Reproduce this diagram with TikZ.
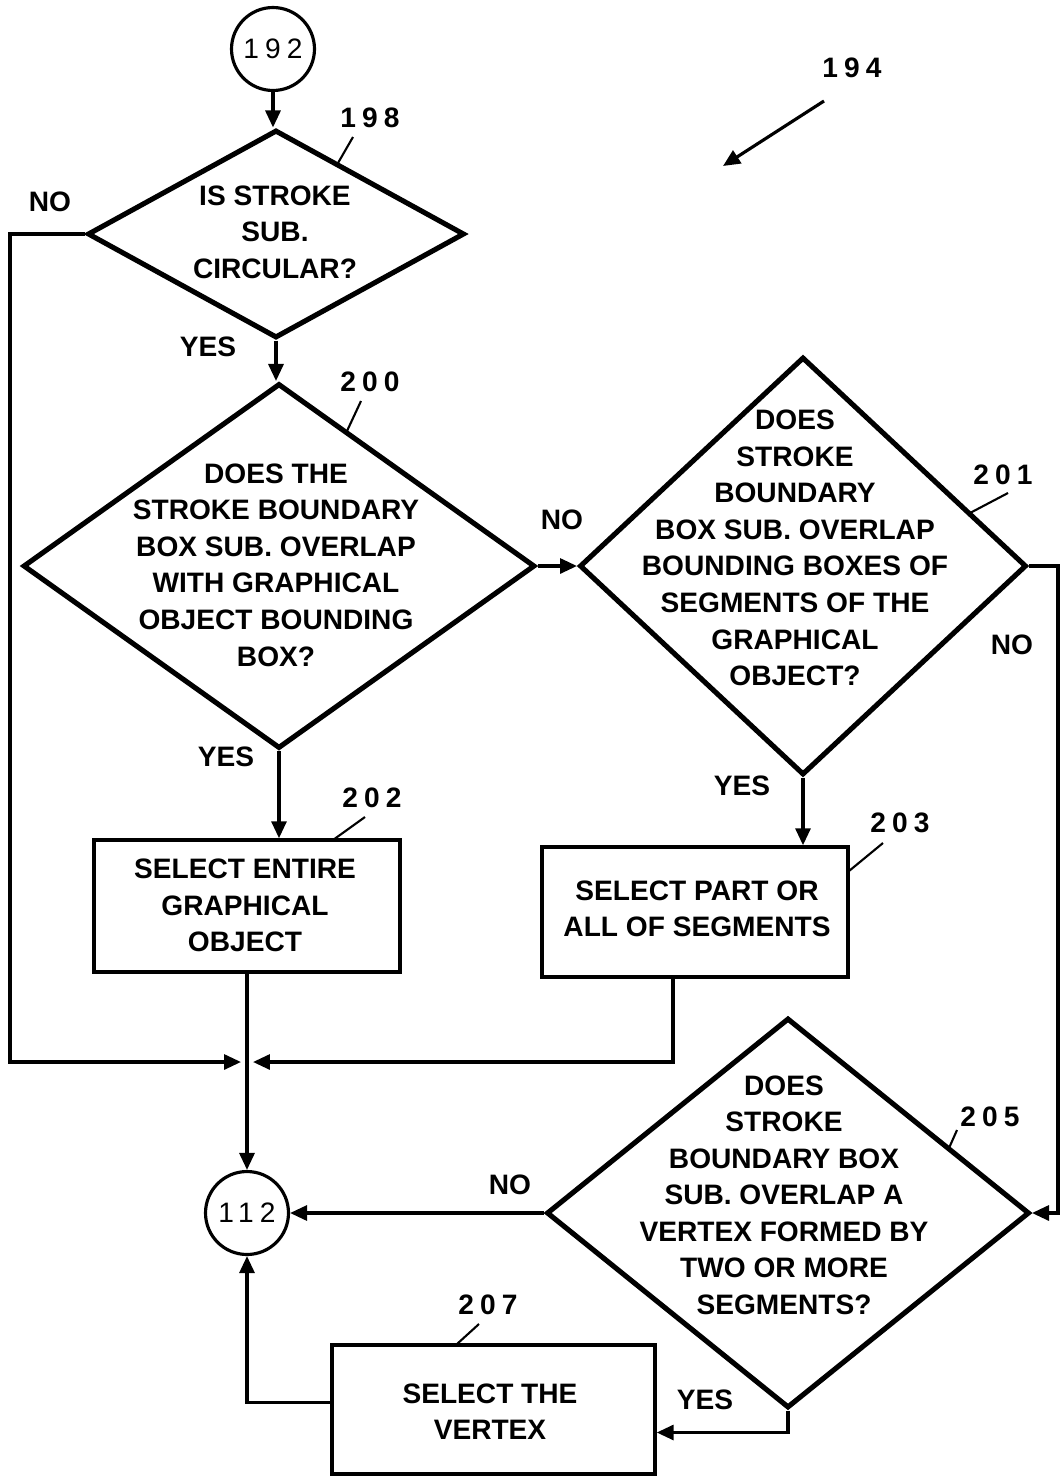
\documentclass[tikz,border=0pt]{standalone}
\usepackage{fontspec}
\setmainfont{Liberation Sans}
\newfontfamily\refnum[LetterSpace=22]{Liberation Sans}
\usetikzlibrary{arrows.meta,shapes.geometric}
\begin{document}
\begin{tikzpicture}[x=0.02cm, y=-0.02cm,
  txt/.style={align=center, inner sep=0pt, font=\fontsize{16}{20.8}\selectfont\bfseries},
  dec/.style={draw, diamond, line width=2.9pt, inner sep=0pt},
  stepbox/.style={draw, rectangle, line width=2pt, inner sep=0pt},
  conn/.style={draw, circle, line width=1.8pt, inner sep=0pt, minimum size=1.66cm, font=\fontsize{16}{20}\selectfont\refnum},
  reflabel/.style={inner sep=0pt, font=\fontsize{16}{20}\selectfont\bfseries\refnum},
  flow/.style={line width=1.8pt, -{Triangle[length=0.34cm, width=0.3cm]}},
  leader/.style={line width=1.2pt}]
  \useasboundingbox (0,0) rectangle (1059,1478);
  % connectors in / out
  \node[conn] (c192) at (273,49)   {192};
  \node[conn] (c112) at (247,1213) {112};
  % decisions
  \node[dec, minimum width=7.54cm, minimum height=4.16cm] (d198) at (276,234)  {};
  \node[dec, minimum width=10.24cm, minimum height=7.3cm] (d200) at (279,566)  {};
  \node[dec, minimum width=8.94cm, minimum height=8.36cm] (d201) at (803,566)  {};
  \node[dec, minimum width=9.66cm, minimum height=7.8cm]  (d205) at (788,1213) {};
  \node[txt] (t198) at (275,232)  {IS STROKE\\SUB.\\CIRCULAR?};
  \node[txt] (t200) at (276,565)  {DOES THE\\STROKE BOUNDARY\\BOX SUB. OVERLAP\\WITH GRAPHICAL\\OBJECT BOUNDING\\BOX?};
  \node[txt] (t201) at (795,548)  {DOES\\STROKE\\BOUNDARY\\BOX SUB. OVERLAP\\BOUNDING BOXES OF\\SEGMENTS OF THE\\GRAPHICAL\\OBJECT?};
  \node[txt] (t205) at (784,1195) {DOES\\STROKE\\BOUNDARY BOX\\SUB. OVERLAP A\\VERTEX FORMED BY\\TWO OR MORE\\SEGMENTS?};
  % actions
  \node[stepbox, minimum width=6.12cm, minimum height=2.64cm] (b202) at (247,906)    {};
  \node[stepbox, minimum width=6.12cm, minimum height=2.6cm]  (b203) at (695,912)    {};
  \node[stepbox, minimum width=6.46cm, minimum height=2.58cm] (b207) at (493.5,1409.5) {};
  \node[txt] (t202) at (245,905.5) {SELECT ENTIRE\\GRAPHICAL\\OBJECT};
  \node[txt] (t203) at (697,909)   {SELECT PART OR\\ALL OF SEGMENTS};
  \node[txt] (t207) at (490,1411.5) {SELECT THE\\VERTEX};
  % branch labels
  \node[txt] (no198)  at (50,202)   {NO};
  \node[txt] (yes198) at (208,347)  {YES};
  \node[txt] (no200)  at (562,520)  {NO};
  \node[txt] (yes200) at (226,757)  {YES};
  \node[txt] (yes201) at (742,786)  {YES};
  \node[txt] (no201)  at (1012,645) {NO};
  \node[txt] (no205)  at (510,1185) {NO};
  \node[txt] (yes205) at (705,1400) {YES};
  % junction above 112
  \coordinate (jw) at (241,1062);
  \coordinate (je) at (253,1062);
  \coordinate (a194) at (824,101);
  \coordinate (e194) at (723,166);
  \draw[flow] (c192.south) -- (c192.south |- d198.north);
  \draw[flow] (d198.south) -- (d198.south |- d200.north);
  \draw[flow] (d198.west) -- ++(-75,0) |- (jw);
  \draw[flow] (d200.east) -- (d201.west);
  \draw[flow] (d200.south) -- (d200.south |- b202.north);
  \draw[flow] (d201.south) -- (d201.south |- b203.north);
  \draw[flow] (d201.east) -- ++(29,0) |- (d205.east);
  \draw[flow] ([xshift=-0.44cm]b203.south) |- (je);
  \draw[flow] (b202.south) -- (c112.north);
  \draw[flow] (d205.west) -- (c112.east);
  \draw[flow] (d205.south) |- ([yshift=-0.46cm]b207.east);
  \draw[flow] ([yshift=0.14cm]b207.west) -| (c112.south);
  \draw[flow] (a194) -- (e194);
  \foreach \t/\x/\y in {194/852/68, 198/370/118, 200/370/382, 201/1003/475, 202/372/798, 203/900/823, 205/990/1117, 207/488/1305}
    \node[reflabel] (r\t) at (\x,\y) {\t};
  \foreach \xa/\ya/\xb/\yb in {353/137/338/163, 361/401/347/431, 1008/493/970/513, 365/817/333/840, 883/843/849/871, 957/1130/949/1148, 479/1324/457/1344}
    \draw[leader] (\xa,\ya) -- (\xb,\yb);
\end{tikzpicture}
\end{document}
